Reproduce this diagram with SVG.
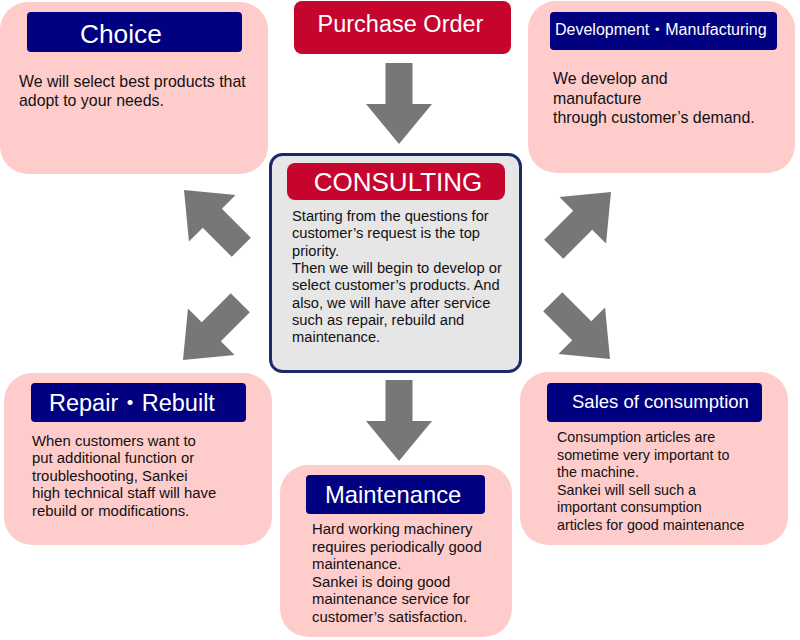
<svg xmlns="http://www.w3.org/2000/svg" width="800" height="640" viewBox="0 0 800 640">
<style>
.card{fill:#ffcccc}
.hdr{fill:#000080}
.red{fill:#c6052f}
.ht{fill:#ffffff;font-family:"Liberation Sans","Noto Sans CJK JP",Arial,sans-serif}
.bt{fill:#111111;font-family:"Liberation Sans","Noto Sans CJK JP",Arial,sans-serif}
.arr{fill:#777777}
</style>
<defs>
<path id="arr" d="M -13.5 -81 H 13.5 V -40 H 33 L 0 0 L -33 -40 H -13.5 Z"/>
</defs>
<rect width="800" height="640" fill="#ffffff"/>

<g id="choice">
<rect class="card" x="0" y="2" width="268" height="172" rx="28"/>
<rect class="hdr" x="27" y="12" width="215" height="40" rx="4"/>
<text class="ht" x="80" y="43" font-size="26.3">Choice</text>
<text class="bt" font-size="15.9"><tspan x="19" y="87">We will select best products that</tspan><tspan x="19" y="106">adopt to your needs.</tspan></text>
</g>

<g id="purchase-order">
<rect class="red" x="294" y="1" width="217" height="53" rx="8"/>
<text class="ht" x="400.5" y="32" font-size="23.5" text-anchor="middle">Purchase Order</text>
</g>

<g id="development">
<rect class="card" x="528" y="1" width="267" height="172" rx="28"/>
<rect class="hdr" x="550" y="12" width="227" height="38" rx="4"/>
<text class="ht" x="555" y="35" font-size="16">Development・Manufacturing</text>
<text class="bt" font-size="15.9"><tspan x="553" y="84">We develop and</tspan><tspan x="553" y="104">manufacture</tspan><tspan x="553" y="123">through customer’s demand.</tspan></text>
</g>

<g id="consulting">
<rect x="270.5" y="154.5" width="250" height="217" rx="12" fill="#e6e6e6" stroke="#1b2a6b" stroke-width="3"/>
<rect class="red" x="287" y="163" width="218" height="37" rx="8"/>
<text class="ht" x="398" y="191" font-size="26" text-anchor="middle">CONSULTING</text>
<text class="bt" font-size="14.7"><tspan x="292" y="221">Starting from the questions for</tspan><tspan x="292" y="238.3">customer’s request is the top</tspan><tspan x="292" y="255.6">priority.</tspan><tspan x="292" y="272.9">Then we will begin to develop or</tspan><tspan x="292" y="290.2">select customer’s products. And</tspan><tspan x="292" y="307.5">also, we will have after service</tspan><tspan x="292" y="324.8">such as repair, rebuild and</tspan><tspan x="292" y="342">maintenance.</tspan></text>
</g>

<g id="repair">
<rect class="card" x="4" y="373" width="268" height="172" rx="28"/>
<rect class="hdr" x="31" y="383" width="215" height="39" rx="4"/>
<text class="ht" x="49" y="411" font-size="23.5">Repair・Rebuilt</text>
<text class="bt" font-size="14.9"><tspan x="32" y="445.5">When customers want to</tspan><tspan x="32" y="463">put additional function or</tspan><tspan x="32" y="480.5">troubleshooting, Sankei</tspan><tspan x="32" y="498">high technical staff will have</tspan><tspan x="32" y="515.5">rebuild or modifications.</tspan></text>
</g>

<g id="maintenance">
<rect class="card" x="280" y="465" width="232" height="172" rx="28"/>
<rect class="hdr" x="306" y="475" width="179" height="39" rx="4"/>
<text class="ht" x="325" y="503" font-size="23.8">Maintenance</text>
<text class="bt" font-size="14.9"><tspan x="312" y="534">Hard working machinery</tspan><tspan x="312" y="551.6">requires periodically good</tspan><tspan x="312" y="569.2">maintenance.</tspan><tspan x="312" y="586.8">Sankei is doing good</tspan><tspan x="312" y="604.4">maintenance service for</tspan><tspan x="312" y="622">customer’s satisfaction.</tspan></text>
</g>

<g id="sales">
<rect class="card" x="520" y="372" width="268" height="173" rx="28"/>
<rect class="hdr" x="547" y="383" width="215" height="39" rx="4"/>
<text class="ht" x="572" y="408" font-size="18.5">Sales of consumption</text>
<text class="bt" font-size="14.3"><tspan x="557" y="442">Consumption articles are</tspan><tspan x="557" y="459.5">sometime very important to</tspan><tspan x="557" y="477">the machine.</tspan><tspan x="557" y="494.5">Sankei will sell such a</tspan><tspan x="557" y="512">important consumption</tspan><tspan x="557" y="529.5">articles for good maintenance</tspan></text>
</g>

<g id="connectors" class="arr">
<use href="#arr" transform="translate(399,144)"/>
<use href="#arr" transform="translate(399,461)"/>
<use href="#arr" transform="translate(184,190) rotate(135)"/>
<use href="#arr" transform="translate(183,360) rotate(45)"/>
<use href="#arr" transform="translate(611,192) rotate(-135)"/>
<use href="#arr" transform="translate(610,359) rotate(-45)"/>
</g>
</svg>
